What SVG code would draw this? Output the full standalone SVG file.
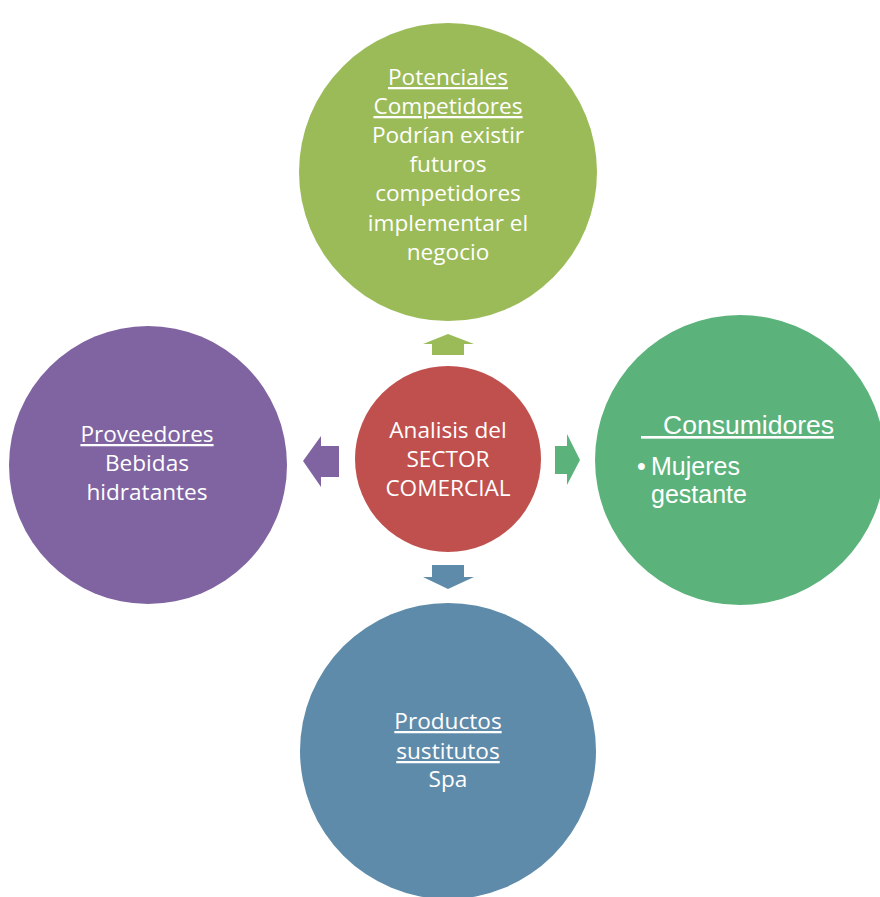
<svg xmlns="http://www.w3.org/2000/svg" width="880" height="897" viewBox="0 0 880 897">
<style>
.t{font-family:"Open Sans",Lato,"Liberation Sans",sans-serif;font-size:22.6px;fill:#fff;text-anchor:middle}
.a{font-family:"Liberation Sans",Arial,sans-serif;fill:#fff}
.u{text-decoration:underline}
</style>
<rect width="880" height="897" fill="#fff"/>
<g id="connectors">
<polygon points="423,344 448,334 474,344 464,344 464,355 432,355 432,344" fill="#9BBB59"/>
<polygon points="432,565 464,565 464,577 474,577 448,589 423,577 432,577" fill="#5F8BAA"/>
<polygon points="303,461 321,436 321,446 339,446 339,477 321,477 321,487" fill="#8064A2"/>
<polygon points="555,446 567,446 567,434 580,460 567,485 567,474 555,474" fill="#5BB37B"/>
</g>
<g id="top">
<circle cx="448" cy="172" r="149" fill="#9BBB59"/>
<text class="t"><tspan class="u" x="448" y="85">Potenciales</tspan><tspan class="u" x="448" y="114">Competidores</tspan><tspan x="448" y="143">Podrían existir</tspan><tspan x="448" y="172">futuros</tspan><tspan x="448" y="201">competidores</tspan><tspan x="448" y="231">implementar el</tspan><tspan x="448" y="260">negocio</tspan></text>
</g>
<g id="left">
<circle cx="148" cy="465" r="139" fill="#8064A2"/>
<text class="t"><tspan class="u" x="147" y="442">Proveedores</tspan><tspan x="147" y="471">Bebidas</tspan><tspan x="147" y="500">hidratantes</tspan></text>
</g>
<g id="right">
<circle cx="740" cy="460" r="145" fill="#5BB37B"/>
<text class="a" font-size="26.5" x="641" y="434" text-decoration="underline" xml:space="preserve">   Consumidores</text>
<text class="a" font-size="25"><tspan x="637" y="475">•</tspan><tspan x="651" y="475">Mujeres</tspan><tspan x="651" y="503">gestante</tspan></text>
</g>
<g id="bottom">
<circle cx="448" cy="751" r="148" fill="#5F8BAA"/>
<text class="t"><tspan class="u" x="448" y="729">Productos</tspan><tspan class="u" x="448" y="759">sustitutos</tspan><tspan x="448" y="787">Spa</tspan></text>
</g>
<g id="center">
<circle cx="448" cy="459" r="93" fill="#C0504D"/>
<text class="t" font-size="21.6"><tspan x="448" y="438">Analisis del</tspan><tspan x="448" y="467">SECTOR</tspan><tspan x="448" y="496">COMERCIAL</tspan></text>
</g>
</svg>
